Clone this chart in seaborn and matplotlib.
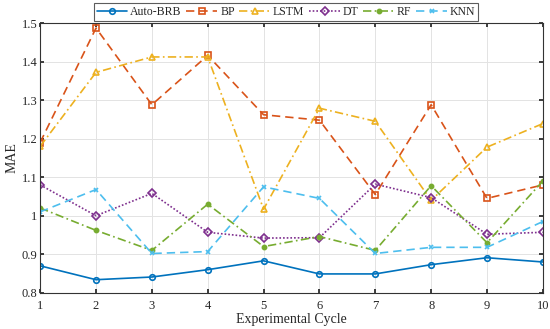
import numpy as np
import pandas as pd
import seaborn as sns
import matplotlib.pyplot as plt

cycles = [1, 2, 3, 4, 5, 6, 7, 8, 9, 10]
auto_brb = [0.870, 0.834, 0.841, 0.860, 0.883, 0.849, 0.849, 0.873, 0.891, 0.880]
bp = [1.190, 1.487, 1.288, 1.416, 1.262, 1.248, 1.055, 1.288, 1.045, 1.080]
lstm = [1.180, 1.372, 1.412, 1.412, 1.017, 1.279, 1.245, 1.040, 1.178, 1.239]
dt = [1.080, 1.000, 1.058, 0.957, 0.942, 0.943, 1.082, 1.047, 0.952, 0.957]
rf = [1.020, 0.962, 0.910, 1.030, 0.920, 0.946, 0.910, 1.078, 0.930, 1.090]
knn = [1.010, 1.068, 0.902, 0.907, 1.075, 1.045, 0.902, 0.918, 0.918, 0.985]

models = ["Auto-BRB", "BP", "LSTM", "DT", "RF", "KNN"]
series = [auto_brb, bp, lstm, dt, rf, knn]

df = pd.DataFrame({"cycle": cycles * len(models),
                   "model": np.repeat(models, len(cycles)),
                   "mae": np.concatenate(series)})

sns.set_theme(style="whitegrid")
plt.rcParams["font.family"] = ["Liberation Serif", "DejaVu Serif"]

colors = ["#0072BD", "#D95319", "#EDB120", "#7E2F8E", "#77AC30", "#4DBEEE"]
styles = ["-", (0, (5, 3)), (0, (5, 2, 1, 2)), (0, (1, 1.2)), (0, (5, 2, 1, 2)), (0, (5, 3))]
markers = ["o", "s", "^", "D", "o", "x"]
msizes = [4, 4.5, 4.5, 3.8, 3, 3.5]
hollow = [True, True, True, True, False, False]

fig, ax = plt.subplots(figsize=(5.5, 3.29), dpi=100)
for m, c, mk, ms, h in zip(models, colors, markers, msizes, hollow):
    d = df[df.model == m]
    sns.lineplot(data=d, x="cycle", y="mae", ax=ax, color=c, label=m,
                 marker=mk, markersize=ms, linewidth=1.2,
                 markerfacecolor="none" if h else c,
                 markeredgecolor=c, markeredgewidth=1.2)
for line, ls in zip(ax.get_lines(), styles):
    line.set_linestyle(ls)

ax.set_xlim(1, 10)
ax.set_ylim(0.8, 1.5)
ax.set_xticks(cycles)
ax.set_yticks(np.arange(0.8, 1.51, 0.1))
ax.set_yticklabels(["0.8", "0.9", "1", "1.1", "1.2", "1.3", "1.4", "1.5"])
ax.set_xlabel("Experimental Cycle", fontsize=10, labelpad=1)
ax.set_ylabel("MAE", fontsize=10, labelpad=2)
ax.tick_params(labelsize=9, direction="in", length=3, pad=2,
               top=True, right=True, bottom=True, left=True)
ax.tick_params(axis="x", pad=5)
ax.grid(color="#e3e3e3", linewidth=0.7)
for s in ax.spines.values():
    s.set_color("#333333")
    s.set_linewidth(0.8)

leg = ax.legend(loc="lower center", bbox_to_anchor=(0.489, 1.008), ncol=6,
                fontsize=8.5, frameon=True, fancybox=False, handlelength=2.6,
                handletextpad=0.25, columnspacing=0.4, borderpad=0.25,
                borderaxespad=0)
leg.get_frame().set_edgecolor("#333333")
leg.get_frame().set_linewidth(0.8)

fig.subplots_adjust(left=0.073, right=0.987, top=0.93, bottom=0.11)
fig.savefig("out.png", dpi=100)
